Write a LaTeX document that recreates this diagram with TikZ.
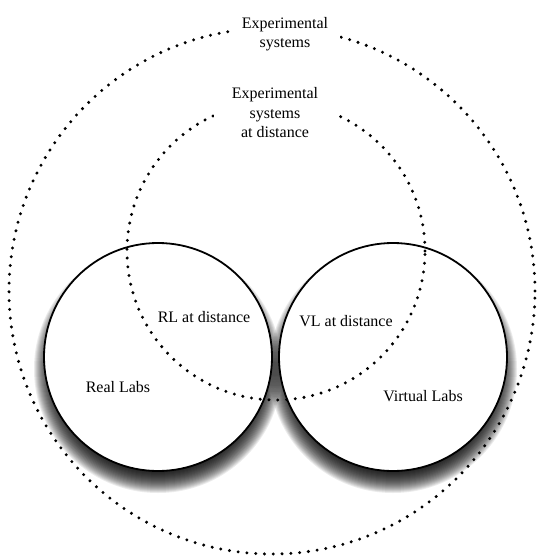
\documentclass[tikz,border=0pt]{standalone}
\usepackage{fontspec}
\setmainfont{Liberation Serif}
\begin{document}
\begin{tikzpicture}[x=1pt,y=-1pt,
  lab/.style={circle, draw=black, line width=1.8pt, fill=white, minimum size=228pt, inner sep=0pt},
  shadowring/.style={fill=black, opacity=0.08},
  dots/.style={circle, draw=black, line width=3.3pt, line cap=round, dash pattern=on 0pt off 8.8pt, inner sep=0pt},
  txt/.style={font=\fontsize{16}{19.5}\selectfont, align=center, text=black}]
\useasboundingbox (0,0) rectangle (539,559);
\fill[white] (0,0) rectangle (539,559);
% blurred drop shadows
\coordinate (rlsh) at (158,369);
\coordinate (vlsh) at (393,369);
\foreach \i in {1,...,24} {
  \fill[shadowring] (rlsh) circle[radius=100+\i];
  \fill[shadowring] (vlsh) circle[radius=100+\i];
}
% solid lab circles
\node[lab] (rl) at (158,357) {};
\node[lab] (vl) at (393,357) {};
% dotted circles
\node[dots, minimum size=526pt] (es) at (272,291) {};
\node[dots, minimum size=298pt] (esd) at (276,251) {};
% labels
\node[txt, fill=white, inner xsep=12pt, inner ysep=4pt] (tes) at (285,34) {Experimental\\ systems};
\node[txt, fill=white, inner xsep=18pt, inner ysep=6pt] (tesd) at (275,113) {Experimental\\ systems\\ at distance};
\node[txt] (trld) at (204,317) {RL at distance};
\node[txt] (trl) at (118,387) {Real Labs};
\node[txt] (tvld) at (346,321) {VL at distance};
\node[txt] (tvl) at (423,396) {Virtual Labs};
\end{tikzpicture}
\end{document}
